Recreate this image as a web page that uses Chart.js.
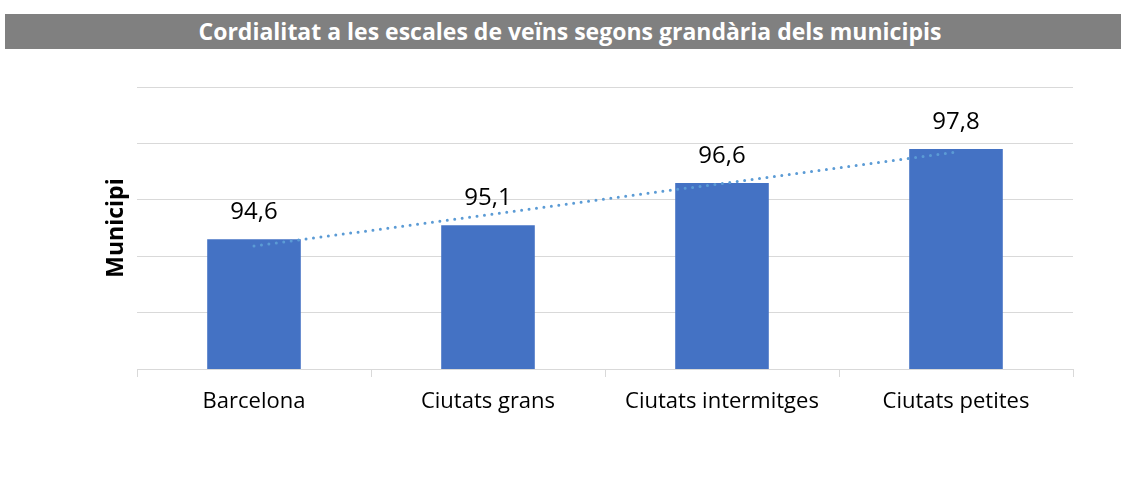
<!DOCTYPE html>
<html>
<head>
<meta charset="utf-8">
<script src="https://cdn.jsdelivr.net/npm/chart.js@4/dist/chart.umd.min.js"></script>
<style>
  body { margin: 0; background: #fff; }
  #wrap { position: relative; width: 1126px; height: 494px; }
  #title {
    position: absolute; left: 5px; top: 14px; width: 1116px; height: 35px;
    background: #808080; color: #fff; font: bold 23px "Open Sans", sans-serif;
    line-height: 35px; text-align: center; text-indent: 14px; white-space: nowrap;
  }
  #chart { position: absolute; left: 0; top: 0; }
</style>
</head>
<body>
<div id="wrap">
  <canvas id="chart" width="1126" height="494"></canvas>
  <div id="title">Cordialitat a les escales de veïns segons grandària dels municipis</div>
</div>
<script>
const ctx = document.querySelector('#chart')

const categories = ["Barcelona", "Ciutats grans", "Ciutats intermitges", "Ciutats petites"];
const values = [94.6, 95.1, 96.6, 97.8];
// linear trend, ends
const trend = [94.36, null, null, 97.69];

const labelFont = '"Open Sans", sans-serif';

const valueLabels = {
    id: 'valueLabels',
    afterDatasetsDraw(chart) {
        const c = chart.ctx;
        const meta = chart.getDatasetMeta(1);
        c.save();
        c.fillStyle = '#000';
        c.font = '24px ' + labelFont;
        c.textAlign = 'center';
        c.textBaseline = 'middle';
        meta.data.forEach((bar, i) => {
            c.fillText(values[i].toFixed(1).replace('.', ','), bar.x, bar.y - 27);
        });
        c.restore();
    }
};

new Chart(ctx, {
    data: {
        labels: categories,
        datasets: [
            {
                type: 'line',
                data: trend,
                spanGaps: true,
                borderColor: '#5b9bd5',
                borderWidth: 3,
                borderCapStyle: 'round',
                borderDash: [0, 7.5],
                pointRadius: 0,
                order: 0
            },
            {
                type: 'bar',
                data: values,
                backgroundColor: '#4472c4',
                barPercentage: 0.4,
                categoryPercentage: 1,
                order: 1
            }
        ]
    },
    options: {
        responsive: false,
        animation: false,
        layout: {
            padding: { top: 87, right: 53, left: 0, bottom: 0 }
        },
        plugins: {
            legend: false,
            tooltip: false
        },
        scales: {
            x: {
                grid: {
                    drawOnChartArea: false,
                    color: '#d9d9d9',
                    tickLength: 8
                },
                border: { color: '#d9d9d9' },
                ticks: {
                    color: '#000',
                    font: { family: labelFont, size: 22 },
                    padding: 12
                },
                afterFit: s => { s.height = 125; }
            },
            y: {
                min: 90,
                max: 100,
                grid: {
                    color: '#d9d9d9',
                    drawTicks: false
                },
                border: { display: false },
                ticks: {
                    stepSize: 2,
                    display: false
                },
                title: {
                    display: true,
                    text: 'Municipi',
                    color: '#000',
                    font: { family: labelFont, size: 23, weight: 'bold' },
                    padding: { top: 103, bottom: 0 }
                },
                afterFit: s => { s.width = 137; }
            }
        }
    },
    plugins: [valueLabels]
})
</script>
</body>
</html>
